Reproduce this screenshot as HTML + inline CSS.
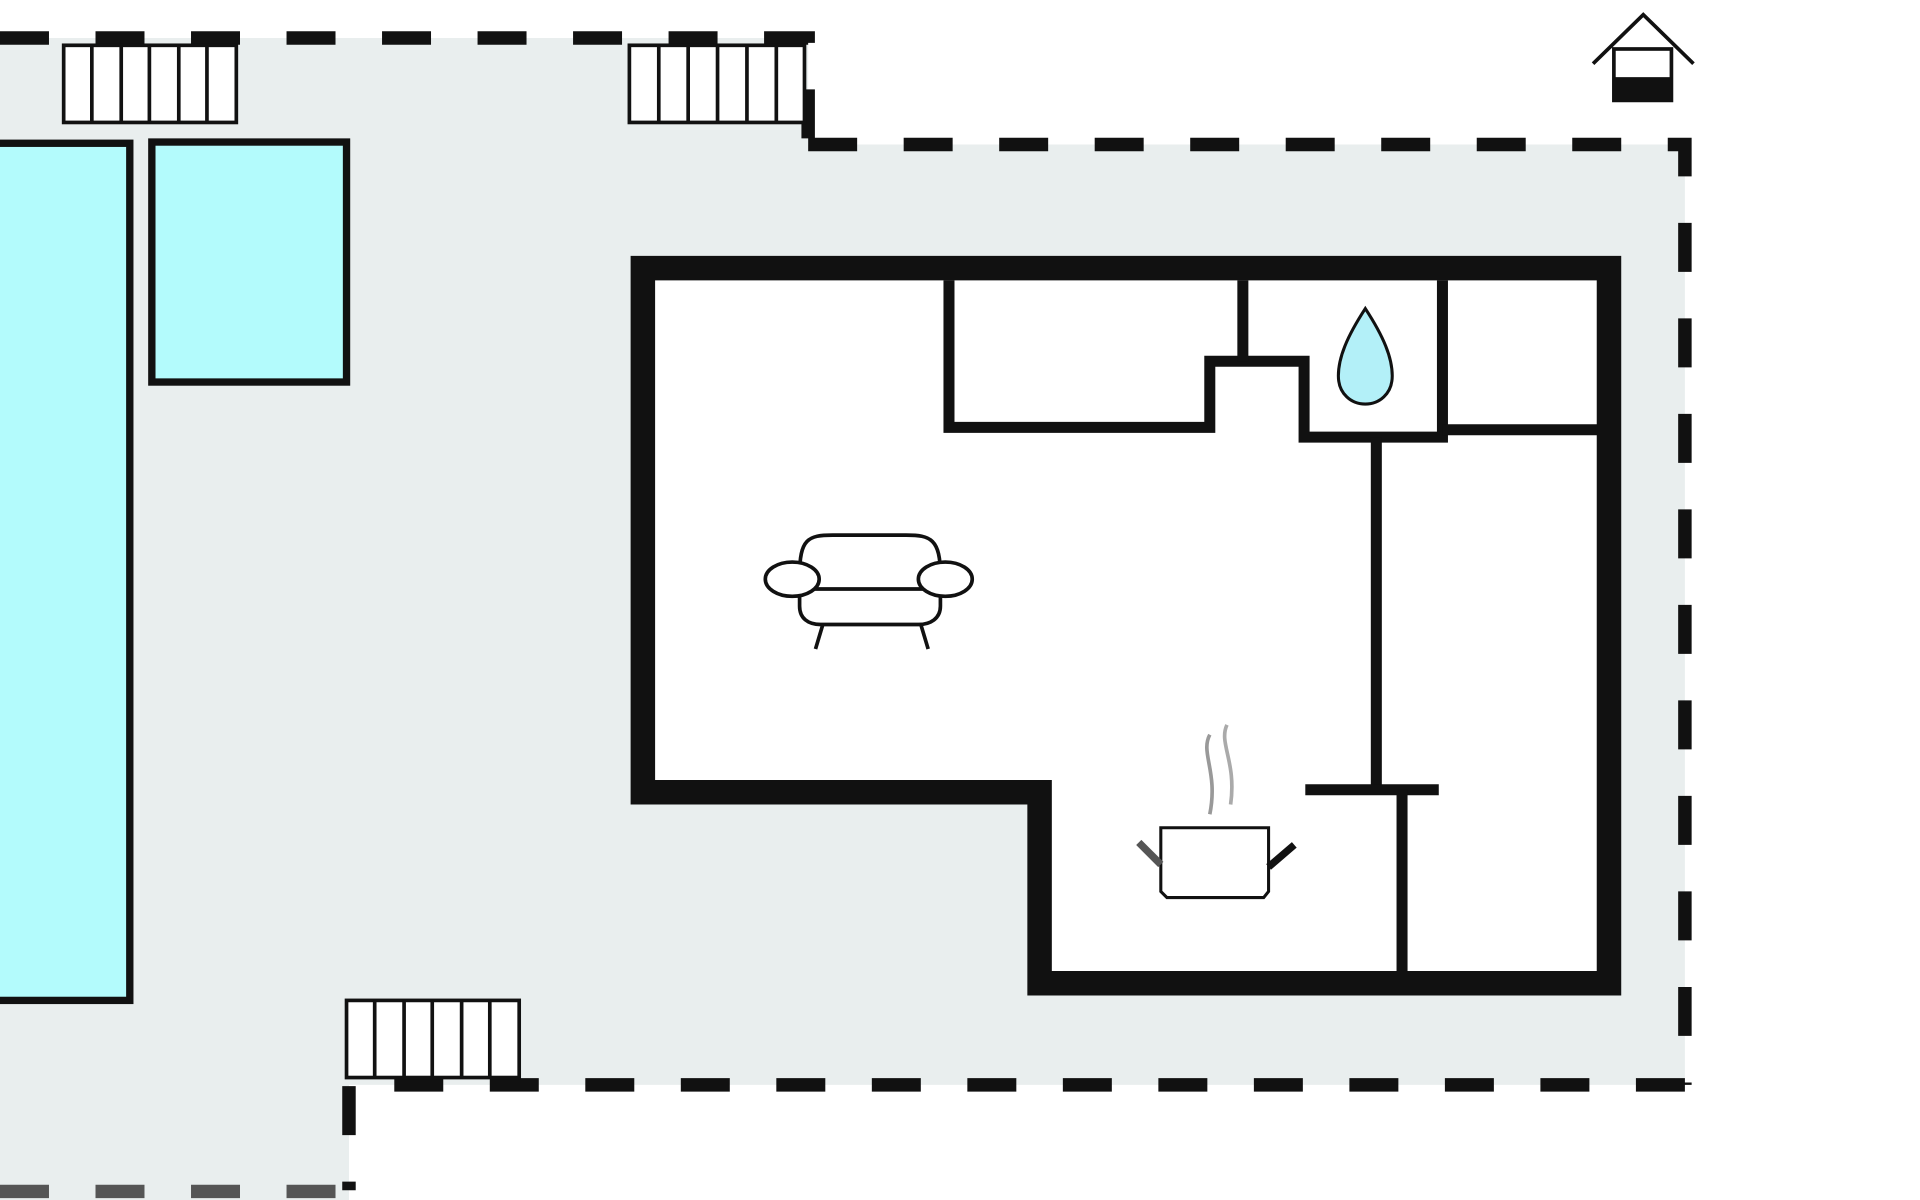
<!DOCTYPE html>
<html><head><style>html,body{margin:0;padding:0;background:#fff;width:1920px;height:1200px;overflow:hidden}</style></head>
<body>
<svg width="1920" height="1200" viewBox="0 0 1568 980" xmlns="http://www.w3.org/2000/svg">
<polygon points="0,31 660,31 660,118 1376,118 1376,886 285,886 285,980 0,980" fill="#e9eeee"/>
<g fill="none" stroke="#111" stroke-width="11" stroke-dasharray="40 38">
<polyline points="0,31 660,31 660,118"/>
<polyline points="660,118 1376,118 1376,886"/>
<polyline points="1376,886 285,886 285,972"/>
</g>
<line x1="0" y1="973" x2="285" y2="973" stroke="#555" stroke-width="11" stroke-dasharray="40 38"/>
<rect x="-10" y="117" width="116" height="700" fill="#b3fbfc" stroke="#111" stroke-width="6"/>
<rect x="124" y="116" width="159" height="196" fill="#b3fbfc" stroke="#111" stroke-width="6"/>
<g fill="#fff" stroke="#111" stroke-width="3">
<rect x="52" y="37" width="141" height="63"/>
<rect x="514" y="37" width="143" height="63"/>
<rect x="283" y="817" width="141" height="63"/>
</g>
<g stroke="#111" stroke-width="3">
<line x1="75" y1="37" x2="75" y2="100"/><line x1="99" y1="37" x2="99" y2="100"/><line x1="122" y1="37" x2="122" y2="100"/><line x1="146" y1="37" x2="146" y2="100"/><line x1="169" y1="37" x2="169" y2="100"/>
<line x1="538" y1="37" x2="538" y2="100"/><line x1="562" y1="37" x2="562" y2="100"/><line x1="586" y1="37" x2="586" y2="100"/><line x1="610" y1="37" x2="610" y2="100"/><line x1="634" y1="37" x2="634" y2="100"/>
<line x1="306" y1="817" x2="306" y2="880"/><line x1="330" y1="817" x2="330" y2="880"/><line x1="353" y1="817" x2="353" y2="880"/><line x1="377" y1="817" x2="377" y2="880"/><line x1="400" y1="817" x2="400" y2="880"/>
</g>
<path d="M525,219 L1314,219 L1314,803 L849,803 L849,647 L525,647 Z" fill="#fff" stroke="#111" stroke-width="20"/>
<g fill="none" stroke="#111" stroke-width="9">
<polyline points="775,229 775,349 988,349 988,295 1065,295 1065,357 1178,357 1178,229"/>
<line x1="1015" y1="229" x2="1015" y2="295"/>
<line x1="1178" y1="351" x2="1305" y2="351"/>
<line x1="1124" y1="357" x2="1124" y2="645"/>
<line x1="1066" y1="645" x2="1175" y2="645"/>
<line x1="1145" y1="645" x2="1145" y2="793"/>
</g>
<path d="M1115,252 C1100,275 1093,292 1093,307 C1093,322 1104,330 1115,330 C1126,330 1137,322 1137,307 C1137,292 1130,275 1115,252 Z" fill="#b3f0f8" stroke="#111" stroke-width="2.5"/>
<g fill="#fff" stroke="#111" stroke-width="3">
<path d="M653,470 C653,440 660,437 680,437 L740,437 C760,437 768,440 768,470 L768,495 C768,505 760,510 750,510 L670,510 C660,510 653,505 653,495 Z"/>
<line x1="660" y1="481" x2="762" y2="481"/>
<ellipse cx="647" cy="473" rx="22" ry="14"/>
<ellipse cx="772" cy="473" rx="22" ry="14"/>
<line x1="672" y1="510" x2="666" y2="530"/><line x1="752" y1="510" x2="758" y2="530"/>
</g>
<g fill="none" stroke-width="3">
<path d="M988,600 C980,615 995,630 988,665" stroke="#999"/>
<path d="M1002,592 C995,607 1010,622 1005,657" stroke="#aaa"/>
</g>
<path d="M948,676 L1036,676 L1036,728 L1032,733 L953,733 L948,728 Z" fill="#fff" stroke="#111" stroke-width="2.5"/>
<line x1="930" y1="688" x2="948" y2="706" stroke="#555" stroke-width="6"/>
<line x1="1036" y1="708" x2="1057" y2="690" stroke="#111" stroke-width="6"/>
<g stroke="#111" stroke-width="3" fill="none">
<polyline points="1301,52 1342,12 1383,52"/>
<rect x="1318" y="40" width="47" height="42"/>
</g>
<rect x="1318" y="63" width="47" height="20" fill="#111"/>
</svg>
</body></html>
